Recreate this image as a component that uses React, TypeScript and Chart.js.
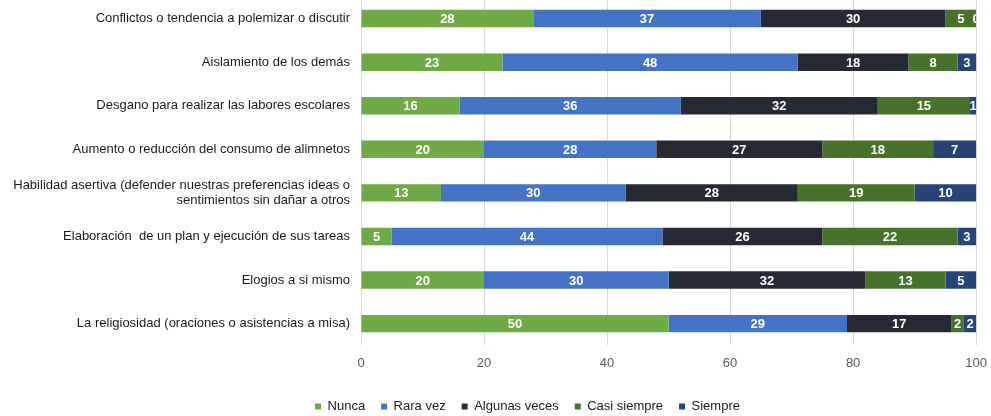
import React, { useEffect, useRef } from "react";
import { Chart, registerables } from "chart.js";

Chart.register(...registerables);

const categories: (string | string[])[] = [
  "Conflictos o tendencia a polemizar o discutir",
  "Aislamiento de los demás",
  "Desgano para realizar las labores escolares",
  "Aumento o reducción del consumo de alimnetos",
  ["Habilidad asertiva (defender nuestras preferencias ideas o", "sentimientos sin dañar a otros"],
  "Elaboración  de un plan y ejecución de sus tareas",
  "Elogios a si mismo",
  "La religiosidad (oraciones o asistencias a misa)",
];

const nunca = [28, 23, 16, 20, 13, 5, 20, 50];
const raraVez = [37, 48, 36, 28, 30, 44, 30, 29];
const algunasVeces = [30, 18, 32, 27, 28, 26, 32, 17];
const casiSiempre = [5, 8, 15, 18, 19, 22, 13, 2];
const siempre = [0, 3, 1, 7, 10, 3, 5, 2];

const seriesNames = ["Nunca", "Rara vez", "Algunas veces", "Casi siempre", "Siempre"];
const seriesColors = ["#6eaa45", "#4472c4", "#252a34", "#46722b", "#264478"];
const xTicks = [0, 20, 40, 60, 80, 100];

const FONT = "'Liberation Sans', Arial, sans-serif";

const labelPlugin = {
  id: "barLabels",
  afterDatasetsDraw(chart: any) {
    const { ctx, chartArea } = chart;
    ctx.save();
    ctx.beginPath();
    ctx.rect(chartArea.left, chartArea.top, chartArea.right - chartArea.left, chartArea.bottom - chartArea.top);
    ctx.clip();
    ctx.font = "bold 13px " + FONT;
    ctx.fillStyle = "#ffffff";
    ctx.textAlign = "center";
    ctx.textBaseline = "middle";
    chart.data.datasets.forEach((ds: any, di: number) => {
      const meta = chart.getDatasetMeta(di);
      meta.data.forEach((bar: any, i: number) => {
        const v = ds.data[i];
        const p = bar.getProps(["x", "y", "base"], true);
        const cx = (p.x + p.base) / 2;
        ctx.fillText(String(v), cx, p.y + 1);
      });
    });
    ctx.restore();
  },
};

const legendShift = {
  id: "legendShift",
  afterLayout(chart: any) {
    const lg = chart.legend;
    if (lg) {
      lg.left += 33;
      lg.right += 33;
    }
  },
};

export default function App() {
  const ref = useRef<HTMLCanvasElement | null>(null);
  useEffect(() => {
    if (!ref.current) return;
    const data = [nunca, raraVez, algunasVeces, casiSiempre, siempre];
    const chart = new Chart(ref.current, {
      type: "bar",
      data: {
        labels: categories,
        datasets: data.map((d, i) => ({
          label: seriesNames[i],
          data: d,
          backgroundColor: seriesColors[i],
          borderWidth: 0,
          categoryPercentage: 1,
          barPercentage: 0.4,
        })),
      },
      options: {
        indexAxis: "y",
        animation: false,
        responsive: false,
        maintainAspectRatio: false,
        layout: { padding: { top: 0, right: 8, bottom: 0, left: 0 } },
        scales: {
          x: {
            stacked: true,
            min: 0,
            max: 100,
            afterBuildTicks: (scale: any) => {
              scale.ticks = xTicks.map((v) => ({ value: v }));
            },
            afterFit: (scale: any) => {
              scale.height += 3;
            },
            ticks: {
              padding: 10,
              color: "#595959",
              font: { family: FONT, size: 13 },
            },
            grid: { color: "#d9d9d9", drawTicks: false },
            border: { display: false },
          },
          y: {
            stacked: true,
            afterFit: (scale: any) => {
              scale.width = 361;
            },
            ticks: {
              padding: 11,
              color: "#1a1a1a",
              font: { family: FONT, size: 13 },
            },
            grid: { display: false, drawTicks: false },
            border: { display: false },
          },
        },
        plugins: {
          legend: {
            position: "bottom",
            labels: {
              boxWidth: 6,
              boxHeight: 6,
              padding: 16,
              color: "#1a1a1a",
              font: { family: FONT, size: 13 },
            },
          },
          tooltip: { enabled: false },
        },
      },
      plugins: [labelPlugin, legendShift],
    });
    return () => chart.destroy();
  }, []);
  return (
    <div style={{ position: "fixed", left: 0, top: 0, width: 991, height: 416, overflow: "hidden", background: "#fff" }}>
      <canvas ref={ref} width={997} height={445} style={{ position: "absolute", left: 0, top: -22, width: 997, height: 445 }} />
    </div>
  );
}
